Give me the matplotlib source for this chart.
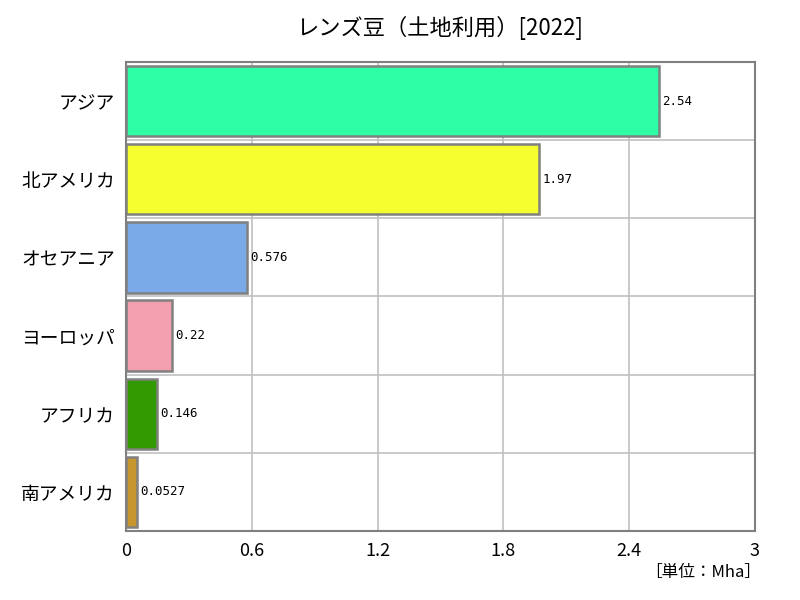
import matplotlib
matplotlib.use("Agg")
import matplotlib.pyplot as plt
import numpy as np

plt.rcParams['font.family'] = ['Noto Sans CJK JP', 'DejaVu Sans']

categories = ["アジア", "北アメリカ", "オセアニア", "ヨーロッパ", "アフリカ", "南アメリカ"]
values = [2.54, 1.97, 0.576, 0.22, 0.146, 0.0527]
value_labels = ["2.54", "1.97", "0.576", "0.22", "0.146", "0.0527"]
colors = ["#2effa6", "#f5ff2e", "#7aaae8", "#f49fb0", "#339900", "#c8962e"]
xticks = [0, 0.6, 1.2, 1.8, 2.4, 3]
xtick_labels = ["0", "0.6", "1.2", "1.8", "2.4", "3"]
title = "レンズ豆（土地利用）[2022]"
unit = "［単位：Mha］"

fig = plt.figure(figsize=(8, 6), dpi=100)
ax = fig.add_axes([0.1575, 0.115, 0.78625, 0.7817])

y = np.arange(len(categories))
ax.barh(y, values, height=0.9, color=colors, edgecolor="#808080", linewidth=1.8, zorder=3)
for yi, v, lab in zip(y, values, value_labels):
    ax.text(v + 0.015, yi, lab, va="center", ha="left", fontsize=9,
            family=["DejaVu Sans Mono"], stretch="condensed", zorder=4)

ax.set_xlim(0, 3)
ax.set_ylim(len(categories) - 0.5, -0.5)
ax.set_xticks(xticks)
ax.set_xticklabels(xtick_labels, fontsize=13)
ax.set_yticks(y)
ax.set_yticklabels(categories, fontsize=13.5)
ax.set_yticks(np.arange(len(categories) - 1) + 0.5, minor=True)
ax.tick_params(axis="both", which="both", length=0)
ax.tick_params(axis="y", pad=8)
ax.tick_params(axis="x", pad=8)
ax.grid(axis="x", color="#c0c0c0", linewidth=1.2, zorder=0)
ax.grid(axis="y", which="minor", color="#c0c0c0", linewidth=1.2, zorder=0)
ax.grid(axis="y", which="major", visible=False)
for s in ax.spines.values():
    s.set_color("#808080")
    s.set_linewidth(1.5)

fig.text(0.55, 0.953, title, ha="center", va="center", fontsize=16)
fig.text(0.952, 0.045, unit, ha="right", va="center", fontsize=12)

fig.savefig("out.png", dpi=100)
